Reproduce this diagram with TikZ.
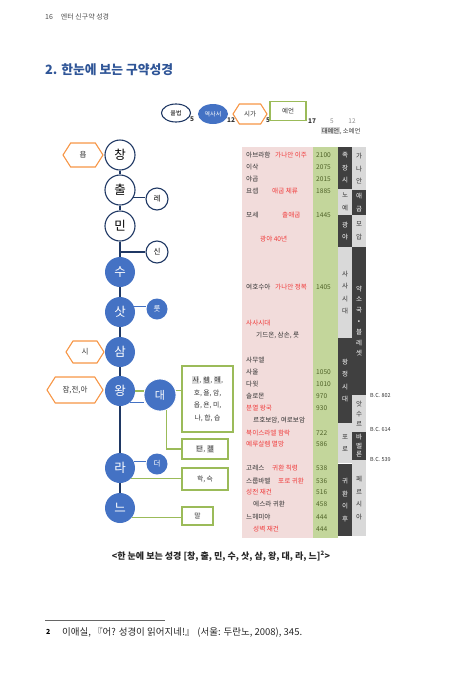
\documentclass[tikz,border=0pt]{standalone}
\usepackage{fontspec}
\setmainfont{Noto Sans CJK KR}
\usepackage{xcolor}
\usetikzlibrary{shapes.geometric,shapes.symbols,positioning}

\definecolor{navy}{HTML}{1F3864}
\definecolor{obblue}{HTML}{4472C4}
\definecolor{hexorange}{HTML}{F79646}
\definecolor{boxgreen}{HTML}{9BBB59}
\definecolor{pinkbg}{HTML}{F2DCDB}
\definecolor{yrbg}{HTML}{C3D69B}
\definecolor{cdark}{HTML}{404040}
\definecolor{clight}{HTML}{D9D9D9}
\definecolor{tred}{HTML}{F03C3C}
\definecolor{tolive}{HTML}{4F6228}
\definecolor{tdark}{HTML}{333333}
\definecolor{titleblue}{HTML}{2F5597}

\newcommand{\tbl}{\fontsize{6.6}{7}\selectfont}
\newcommand{\colf}{\fontsize{6.5}{12.5}\selectfont}
\newcommand{\hl}[1]{{\setlength{\fboxsep}{0.6pt}\colorbox{clight}{#1}}}

\begin{document}
\begin{tikzpicture}[
        x=1pt, y=-1pt,
        open/.style={circle, draw=navy, fill=white, line width=1.1pt, minimum size=30pt, inner sep=0pt, font=\fontsize{12.5}{12.5}\selectfont},
        book/.style={circle, fill=obblue, text=white, minimum size=30pt, inner sep=0pt, font=\fontsize{12.5}{12.5}\selectfont},
        sopen/.style={open, minimum size=22pt, font=\fontsize{7.5}{7.5}\selectfont},
        sbook/.style={book, minimum size=21pt, font=\fontsize{7.5}{7.5}\selectfont},
        hexa/.style={signal, signal to=west and east, signal pointer angle=115, draw=hexorange, line width=1.1pt, fill=white, inner sep=1pt, font=\fontsize{7.5}{7.5}\selectfont, text=tdark},
        gbox/.style={rectangle, draw=boxgreen, line width=1.1pt, fill=white, inner sep=1pt, align=center, font=\fontsize{6.8}{12.5}\selectfont, text=tdark},
        spine/.style={draw=navy, line width=1.2pt},
        bline/.style={draw=obblue, line width=1.2pt},
        gline/.style={draw=boxgreen, line width=1.1pt},
        txt/.style={anchor=west, inner sep=0pt, font=\tbl, text=tdark},
        evt/.style={txt, text=tred},
        yr/.style={txt, text=tolive},
        dcol/.style={rectangle, fill=cdark, text=white, minimum width=14pt, inner sep=0pt, align=center, font=\colf},
        lcol/.style={dcol, fill=clight, text=tdark},
        num/.style={inner sep=0pt, font=\fontsize{6.5}{7}\selectfont\bfseries, text=tdark},
        bc/.style={anchor=west, inner sep=0pt, font=\fontsize{5.5}{6}\selectfont, text=tdark}
    ]
        \useasboundingbox (0,0) rectangle (460,694);

        % Page head and title
        \node[anchor=west, inner sep=0pt, font=\fontsize{7}{8}\selectfont, text=black!70] (page) at (45,17) {16\hspace{8pt}엔터 신구약 성경};
        \node[anchor=west, inner sep=0pt, font=\fontsize{12.8}{14}\selectfont\bfseries, text=titleblue] (title) at (45,70) {2. 한눈에 보는 구약성경};

        % Legend
        \node[ellipse, draw=navy, line width=1.1pt, minimum width=29pt, minimum height=18pt, inner sep=0pt, font=\fontsize{6}{7}\selectfont] (law) at (176,113) {율법};
        \node[num, anchor=west] (nlaw) at (190,119) {5};
        \node[ellipse, fill=obblue, text=white, minimum width=30pt, minimum height=20pt, inner sep=0pt, font=\fontsize{6}{7}\selectfont] (hist) at (213,114) {역사서};
        \node[num, anchor=west] (nhist) at (227,120) {12};
        \node[hexa, minimum width=34pt, minimum height=20pt, font=\fontsize{6.5}{7}\selectfont] (poet) at (250,114) {시가};
        \node[num, anchor=west] (npoet) at (266,120) {5};
        \node[gbox, minimum width=36pt, minimum height=19pt, font=\fontsize{6.5}{7}\selectfont] (proph) at (288,111) {예언};
        \node[num, anchor=west] (nproph) at (308,121) {17};
        \node[num, font=\fontsize{6.5}{7}\selectfont, text=black!45] (nmaj) at (332,121) {5};
        \node[num, font=\fontsize{6.5}{7}\selectfont, text=black!45] (nmin) at (352,121) {12};
        \node[anchor=west, inner sep=0pt, font=\fontsize{6.3}{7}\selectfont, text=tdark] (majmin) at (321,131) {\hl{대예언}, 소예언};

        % Timeline
        \node[open] (chang) at (120,155) {창};
        \node[open] (chul) at (120,190) {출};
        \node[open] (min) at (120,226) {민};
        \node[book] (su) at (120,272) {수};
        \node[book] (sat) at (120,312) {삿};
        \node[book] (sam) at (120,352) {삼};
        \node[book] (wang) at (120,391) {왕};
        \node[book] (ra) at (120,468) {라};
        \node[book] (neu) at (120,508) {느};

        \node[sopen] (re) at (157,199) {레};
        \node[sopen] (sin) at (157,252) {신};
        \node[sbook] (ruth) at (157,309) {룻};
        \node[book, draw=white, line width=0.8pt, minimum size=32pt, font=\fontsize{11}{11}\selectfont] (dae) at (160,395) {대};
        \node[sbook] (deo) at (157,464) {더};

        \node[hexa, minimum width=40pt, minimum height=24pt] (job) at (83,155) {욥};
        \node[hexa, minimum width=38pt, minimum height=22pt] (psa) at (85,352) {시};
        \node[hexa, minimum width=56pt, minimum height=26pt] (prov) at (75,390) {잠,전,아};

        \node[gbox, minimum width=51pt, minimum height=66pt] (minor) at (207.5,399) {\hl{사}, \hl{렘}, \hl{애},\\호, 욜, 암,\\옵, 욘, 미,\\나, 합, 습};
        \node[gbox, minimum width=46pt, minimum height=20pt] (dan) at (205,449) {\hl{단}, \hl{겔}};
        \node[gbox, minimum width=46pt, minimum height=22pt] (hasu) at (205,479) {학, 슥};
        \node[gbox, minimum width=31pt, minimum height=18pt] (mal) at (197.5,516) {말};

        \coordinate (sinj) at (120,252);
        \draw[spine] (chang) -- (chul);
        \draw[spine] (chul) -- (min);
        \draw[spine] (min) -- (su);
        \draw[spine] (su) -- (sat);
        \draw[spine] (sat) -- (sam);
        \draw[spine] (sam) -- (wang);
        \draw[spine] (wang) -- (ra);
        \draw[spine] (ra) -- (neu);
        \draw[spine] (chul.-30) -- (chul.-30 -| re.west);
        \draw[spine] (sinj) -- (sin);
        \draw[bline] (sat.20) -- (sat.20 -| ruth.west);
        \draw[bline] (wang.-50) -- (wang.-50 -| dae.west);
        \draw[gline] (wang.east) -- (wang.east -| dae.west);
        \draw[gline] (dae.15) -- (dae.15 -| minor.west);
        \draw[gline] (dae.-65) |- (dan.west);
        \draw[bline] (ra.25) -- (ra.25 -| deo.west);
        \draw[gline] (ra.-45) -- (ra.-45 -| hasu.west);
        \draw[gline] (neu.-40) -- (neu.-40 -| mal.west);

        % Chronology table
        \fill[pinkbg] (242,147) rectangle (313,538);
        \fill[yrbg] (313,147) rectangle (338,538);

        \node[txt] (abr) at (246,155) {아브라함};
        \node[evt] (abrE) at (275,155) {가나안 이주};
        \node[yr] (abrY) at (316,155) {2100};
        \node[txt] (isaac) at (246,167) {이삭};
        \node[yr] (isaacY) at (316,167) {2075};
        \node[txt] (jacob) at (246,179) {야곱};
        \node[yr] (jacobY) at (316,179) {2015};
        \node[txt] (joseph) at (246,191) {요셉};
        \node[evt] (josephE) at (272,191) {애굽 체류};
        \node[yr] (josephY) at (316,191) {1885};
        \node[txt] (moses) at (246,215) {모세};
        \node[evt] (mosesE) at (282,215) {출애굽};
        \node[yr] (mosesY) at (316,215) {1445};
        \node[evt] (wild) at (260,239) {광야 40년};
        \node[txt] (joshua) at (246,287) {여호수아};
        \node[evt] (joshuaE) at (275,287) {가나안 정복};
        \node[yr] (joshuaY) at (316,287) {1405};
        \node[evt] (judges) at (246,323) {사사시대};
        \node[txt] (gideon) at (256,335) {기드온, 삼손, 룻};
        \node[txt] (samuel) at (246,360) {사무엘};
        \node[txt] (saul) at (246,372) {사울};
        \node[yr] (saulY) at (316,372) {1050};
        \node[txt] (david) at (246,384) {다윗};
        \node[yr] (davidY) at (316,384) {1010};
        \node[txt] (solomon) at (246,396) {솔로몬};
        \node[yr] (solomonY) at (316,396) {970};
        \node[evt] (split) at (246,408) {분열 왕국};
        \node[yr] (splitY) at (316,408) {930};
        \node[txt] (rehob) at (253,420) {르호보암, 여로보암};
        \node[evt] (israel) at (246,433) {북이스라엘 함락};
        \node[yr] (israelY) at (316,433) {722};
        \node[evt] (jerus) at (246,444) {예루살렘 멸망};
        \node[yr] (jerusY) at (316,444) {586};
        \node[txt] (cyrus) at (246,468) {고레스};
        \node[evt] (cyrusE) at (272,468) {귀환 칙령};
        \node[yr] (cyrusY) at (316,468) {538};
        \node[txt] (zerub) at (246,481) {스룹바벨};
        \node[evt] (zerubE) at (278,481) {포로 귀환};
        \node[yr] (zerubY) at (316,481) {536};
        \node[evt] (temple) at (246,492) {성전 재건};
        \node[yr] (templeY) at (316,492) {516};
        \node[txt] (ezra) at (253,504) {에스라 귀환};
        \node[yr] (ezraY) at (316,504) {458};
        \node[txt] (nehem) at (246,517) {느헤미야};
        \node[yr] (nehemY) at (316,517) {444};
        \node[evt] (wall) at (253,529) {성벽 재건};
        \node[yr] (wallY) at (316,529) {444};

        % Eras
        \node[dcol, minimum height=42pt] (e1) at (345,168) {족\\장\\시};
        \node[lcol, minimum height=26pt] (e2) at (345,202) {노\\예};
        \node[dcol, minimum height=32pt] (e3) at (345,231) {광\\야};
        \node[lcol, minimum height=91pt] (e4) at (345,292.5) {사\\사\\시\\대};
        \node[dcol, minimum height=85pt] (e5) at (345,380.5) {왕\\정\\시\\대};
        \node[lcol, minimum height=40pt] (e6) at (345,443) {포\\로};
        \node[dcol, minimum height=72pt] (e7) at (345,500) {귀\\환\\이\\후};

        % Neighbours
        \node[lcol, minimum height=43pt] (n1) at (359,168.5) {가\\나\\안};
        \node[dcol, minimum height=25pt] (n2) at (359,202.5) {애\\굽};
        \node[lcol, minimum height=32pt] (n3) at (359,231) {모\\압};
        \node[dcol, minimum height=148pt, font=\fontsize{6.5}{10.8}\selectfont] (n4) at (359,321) {약\\소\\국\\•\\블\\레\\셋};
        \node[lcol, minimum height=37pt, font=\fontsize{6.5}{10}\selectfont] (n5) at (359,413.5) {앗\\수\\르};
        \node[dcol, minimum height=28pt, font=\fontsize{6.5}{8.5}\selectfont] (n6) at (359,446) {바\\벨\\론};
        \node[lcol, minimum height=76pt] (n7) at (359,498) {페\\르\\시\\아};

        \node[bc] (bc1) at (370,395) {B.C. 802};
        \node[bc] (bc2) at (370,429) {B.C. 614};
        \node[bc] (bc3) at (370,459) {B.C. 539};

        % Caption and footnote
        \node[inner sep=0pt, font=\fontsize{9}{10}\selectfont\bfseries, text=black!85] (caption) at (221,556) {<한 눈에 보는 성경 [창, 출, 민, 수, 삿, 삼, 왕, 대, 라, 느]\textsuperscript{2}>};
        \coordinate (ruleA) at (45,620);
        \coordinate (ruleB) at (165,620);
        \draw[black!60, line width=0.4pt] (ruleA) -- (ruleB);
        \node[anchor=west, inner sep=0pt, font=\fontsize{7}{8}\selectfont\bfseries] (fnmark) at (46,632) {2};
        \node[anchor=west, inner sep=0pt, font=\fontsize{9.5}{11}\selectfont, text=black!85] (fntext) at (62,632) {이애실, 『어? 성경이 읽어지네!』 (서울: 두란노, 2008), 345.};
    \end{tikzpicture}
\end{document}
